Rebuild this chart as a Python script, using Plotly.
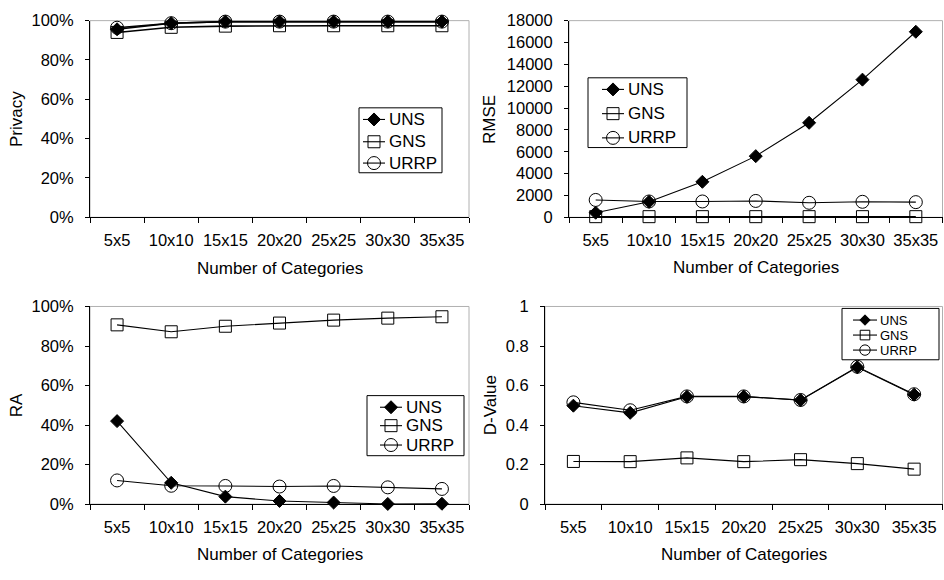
import plotly.graph_objects as go

categories = ["5x5", "10x10", "15x15", "20x20", "25x25", "30x30", "35x35"]
series_names = ["UNS", "GNS", "URRP"]

# Privacy (fraction)
privacy_uns = [0.956, 0.987, 0.995, 0.995, 0.995, 0.995, 0.995]
privacy_gns = [0.940, 0.966, 0.972, 0.974, 0.974, 0.974, 0.974]
privacy_urrp = [0.964, 0.987, 0.995, 0.995, 0.995, 0.995, 0.995]

# RMSE
rmse_uns = [420, 1420, 3250, 5600, 8650, 12600, 16980]
rmse_gns = [60, 60, 60, 60, 60, 60, 60]
rmse_urrp = [1590, 1450, 1450, 1500, 1330, 1420, 1390]

# RA (fraction)
ra_uns = [0.420, 0.108, 0.038, 0.016, 0.008, 0.001, 0.002]
ra_gns = [0.907, 0.872, 0.900, 0.916, 0.931, 0.941, 0.948]
ra_urrp = [0.120, 0.093, 0.092, 0.089, 0.092, 0.085, 0.077]

# D-Value
d_uns = [0.498, 0.462, 0.543, 0.544, 0.526, 0.692, 0.554]
d_gns = [0.216, 0.215, 0.234, 0.215, 0.225, 0.205, 0.177]
d_urrp = [0.515, 0.475, 0.545, 0.545, 0.527, 0.695, 0.556]

x_title = "Number of Categories"
y_titles = ["Privacy", "RMSE", "RA", "D-Value"]

W, H = 944, 580
FONT = "Liberation Sans, Arial, sans-serif"
TICK_SIZE = 16.5
TITLE_SIZE = 17

# plot-area boxes in pixels: (left, right, top, bottom)
boxes = [
    (90, 469, 12, 215),
    (569, 942.5, 12, 215),
    (90, 469, 307, 511),
    (545, 942.5, 307, 511),
]
ytitle_x = [17, 490, 16, 490]
xtitle_y = [268, 267, 563, 563]

# key boxes (pixels): left, right, top, bottom, row centres, glyph x0/x1, text x,
# marker scale, text size
keys = [
    dict(l=359, r=442, t=102, b=169, rows=[114, 137, 159], gx=(363, 385), tx=388, s=1.0, fs=17),
    dict(l=588, r=687, t=71, b=143, rows=[83, 108, 133], gx=(602, 624), tx=627, s=1.0, fs=17),
    dict(l=367, r=464, t=399, b=461, rows=[411, 430, 450], gx=(380, 402), tx=405, s=1.0, fs=17),
    dict(l=842, r=939, t=309, b=362, rows=[321, 336.5, 352], gx=(853, 877), tx=879, s=0.8, fs=13),
]

panels = [
    (privacy_uns, privacy_gns, privacy_urrp),
    (rmse_uns, rmse_gns, rmse_urrp),
    (ra_uns, ra_gns, ra_urrp),
    (d_uns, d_gns, d_urrp),
]

symbols = ["diamond", "square-open", "circle-open"]
sizes = [10, 12, 13]

fig = go.Figure()
layout = dict(
    width=W, height=H,
    margin=dict(l=0, r=0, t=0, b=0),
    paper_bgcolor="white", plot_bgcolor="rgba(0,0,0,0)",
    font=dict(family=FONT, size=TICK_SIZE, color="black"),
    showlegend=False,
)
shapes = []
annotations = []

for i, (vals, box) in enumerate(zip(panels, boxes)):
    k = "" if i == 0 else str(i + 1)
    xa, ya = "x" + k, "y" + k
    lw = 1.6 if i == 0 else 1.1
    for name, v, sym, sz in zip(series_names, vals, symbols, sizes):
        fig.add_trace(go.Scatter(
            x=categories, y=v, name=name, mode="lines+markers",
            line=dict(color="black", width=lw),
            marker=dict(symbol=sym, size=sz, color="black",
                        line=dict(color="black", width=1)),
            xaxis=xa, yaxis=ya, cliponaxis=False,
        ))
    l, r, t, b = box
    layout["xaxis" + k] = dict(
        domain=[l / W, r / W], anchor=ya, type="category",
        range=[-0.5, 6.5], tickson="boundaries", ticks="outside", ticklen=5,
        tickcolor="black", showline=True, linecolor="black", linewidth=1,
        showgrid=False, zeroline=False, ticklabelstandoff=8, tickangle=0,
        tickfont=dict(size=TICK_SIZE),
    )
    yax = dict(
        domain=[1 - b / H, 1 - t / H], anchor=xa,
        ticks="outside", ticklen=4, tickcolor="black",
        showline=True, linecolor="black", linewidth=1,
        showgrid=False, zeroline=False, tickfont=dict(size=TICK_SIZE),
        ticklabelstandoff=8,
    )
    if i in (0, 2):
        yax.update(range=[0, 1], dtick=0.2, tickformat=".0%")
    elif i == 1:
        yax.update(range=[0, 18000], dtick=2000, tickformat="d")
    else:
        yax.update(range=[0, 1], dtick=0.2)
    layout["yaxis" + k] = yax

    # light grey plot-area frame (top and right edges)
    shapes.append(dict(type="rect", xref=xa + " domain", yref=ya + " domain",
                       x0=0, x1=1, y0=0, y1=1, layer="below",
                       line=dict(color="#b0b0b0", width=1)))

    annotations.append(dict(
        text=x_title, xref="paper", yref="paper",
        x=(l + r) / 2 / W, y=1 - xtitle_y[i] / H,
        xanchor="center", yanchor="middle", showarrow=False,
        font=dict(size=TITLE_SIZE),
    ))
    annotations.append(dict(
        text=y_titles[i], xref="paper", yref="paper",
        x=ytitle_x[i] / W, y=1 - (t + b) / 2 / H,
        xanchor="center", yanchor="middle", showarrow=False, textangle=-90,
        font=dict(size=TITLE_SIZE),
    ))

# overlay axes in pixel units for the series keys
OV_X, OV_Y = "x5", "y5"
layout["xaxis5"] = dict(domain=[0, 1], range=[0, W], visible=False, anchor=OV_Y, fixedrange=True)
layout["yaxis5"] = dict(domain=[0, 1], range=[H, 0], visible=False, anchor=OV_X, fixedrange=True)

for key in keys:
    fig.add_trace(go.Scatter(
        x=[key["l"], key["r"], key["r"], key["l"], key["l"]],
        y=[key["t"], key["t"], key["b"], key["b"], key["t"]],
        mode="lines", fill="toself", fillcolor="white",
        line=dict(color="black", width=1), xaxis=OV_X, yaxis=OV_Y,
        hoverinfo="skip",
    ))
    gx0, gx1 = key["gx"]
    gxc = (gx0 + gx1) / 2
    for name, yrow, sym, sz in zip(series_names, key["rows"], symbols, sizes):
        fig.add_trace(go.Scatter(
            x=[gx0, gx1], y=[yrow, yrow], mode="lines",
            line=dict(color="black", width=1.1), xaxis=OV_X, yaxis=OV_Y,
            hoverinfo="skip",
        ))
        fig.add_trace(go.Scatter(
            x=[gxc], y=[yrow], mode="markers",
            marker=dict(symbol=sym, size=sz * key["s"], color="black",
                        line=dict(color="black", width=1)),
            xaxis=OV_X, yaxis=OV_Y, hoverinfo="skip",
        ))
        annotations.append(dict(
            text=name, xref="paper", yref="paper",
            x=key["tx"] / W, y=1 - yrow / H, xanchor="left", yanchor="middle",
            showarrow=False, font=dict(size=key["fs"]), borderpad=0,
        ))

layout["shapes"] = shapes
layout["annotations"] = annotations
fig.update_layout(**layout)
fig.write_html("out.html")
